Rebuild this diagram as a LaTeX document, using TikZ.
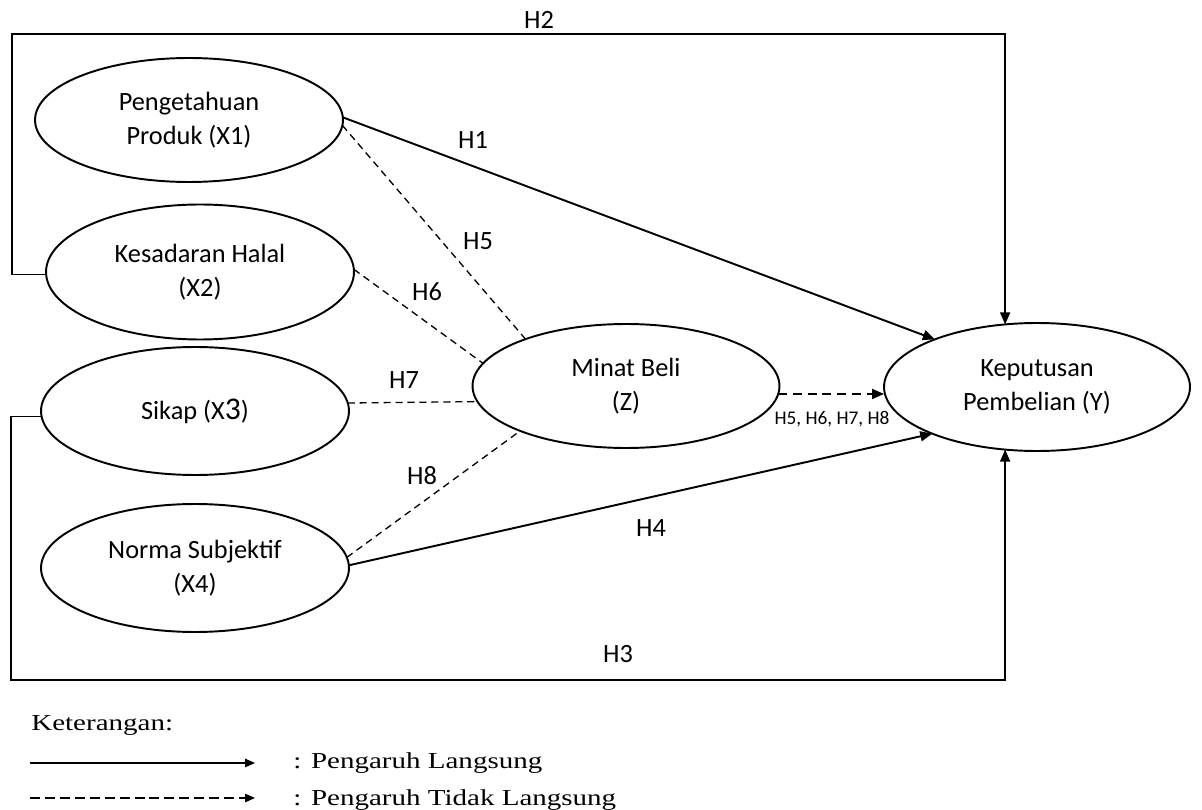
\documentclass[tikz,border=0pt]{standalone}
\usepackage{fontspec}
\setmainfont{Carlito}
\newfontfamily\legendfont{Liberation Serif}
\usetikzlibrary{shapes.geometric,arrows.meta}

\begin{document}
\begin{tikzpicture}[x=0.02cm,y=-0.02cm,>={Triangle[length=0.24cm,width=0.2cm]},
  construct/.style={ellipse,draw,line width=1.1pt,inner sep=0pt,outer sep=0pt,minimum width=6.16cm,minimum height=2.56cm,align=center,font=\fontsize{15}{19}\selectfont},
  hlab/.style={font=\fontsize{15}{18}\selectfont,inner sep=0pt},
  direct/.style={->,line width=1.1pt},
  indirect/.style={line width=0.75pt,dash pattern=on 4pt off 2.8pt},
  hpath/.style={->,line width=0.9pt},
  ket/.style={font=\legendfont\fontsize{13}{15}\selectfont,inner sep=0pt,anchor=base west}]

\useasboundingbox (0,0) rectangle (1202,810);

\node[construct,minimum height=2.48cm] (x1) at (189,120) {Pengetahuan\\Produk (X1)};
\node[construct,minimum height=2.7cm]  (x2) at (200,272) {Kesadaran Halal\\(X2)};
\node[construct] (x3) at (195,411) {Sikap (X{\fontsize{18}{19}\selectfont 3})};
\node[construct] (x4) at (195,568) {Norma Subjektif\\(X4)};
\node[construct,minimum width=6.14cm,minimum height=2.48cm] (z) at (626,386) {Minat Beli\\(Z)};
\node[construct,minimum width=6.12cm] (y) at (1037,387) {Keputusan\\Pembelian (Y)};

\coordinate (h2c) at (12,34);
\coordinate (h3c) at (11,680);

\draw[direct] (x1.1) -- (y.155);
\draw[direct] (x4.1) -- (y.204);
\draw[hpath] (x2.181) -| (h2c) -| (y.117);
\draw[hpath] (x3.182) -| (h3c) -| (y.243);

\draw[indirect] (x1.-2) -- (z.155);
\draw[indirect] (x2.1) -- (z.171);
\draw[indirect] (x3.3) -- (z.186.6);
\draw[indirect] (x4.4) -- (z.203);
\draw[->,line width=1.2pt,dash pattern=on 5pt off 3.4pt] (z.-3) -- (z.-3 -| y.west);

\node[hlab] (lh1) at (473,140) {H1};
\node[hlab] (lh2) at (539,20)  {H2};
\node[hlab] (lh3) at (618,654) {H3};
\node[hlab] (lh4) at (651,528) {H4};
\node[hlab] (lh5) at (478,241) {H5};
\node[hlab] (lh6) at (427,292) {H6};
\node[hlab] (lh7) at (404,380) {H7};
\node[hlab] (lh8) at (422,476) {H8};
\node[font=\fontsize{11}{13}\selectfont,inner sep=0pt] (lhz) at (832,419) {H5, H6, H7, H8};

\node[ket] (ket) at (31,730) {\scalebox{1.27}[1]{Keterangan:}};
\coordinate (lg1a) at (30,763);
\coordinate (lg1b) at (255,763);
\coordinate (lg2a) at (30,798);
\coordinate (lg2b) at (255,798);
\draw[->,line width=0.85pt,>={Triangle[length=0.2cm,width=0.17cm]}] (lg1a) -- (lg1b);
\draw[->,line width=0.85pt,dash pattern=on 5.7pt off 2.8pt,>={Triangle[length=0.2cm,width=0.17cm]}] (lg2a) -- (lg2b);
\node[ket] (ket1) at (293,768) {\scalebox{1.27}[1]{: Pengaruh Langsung}};
\node[ket] (ket2) at (293,805) {\scalebox{1.27}[1]{: Pengaruh Tidak Langsung}};
\end{tikzpicture}
\end{document}
